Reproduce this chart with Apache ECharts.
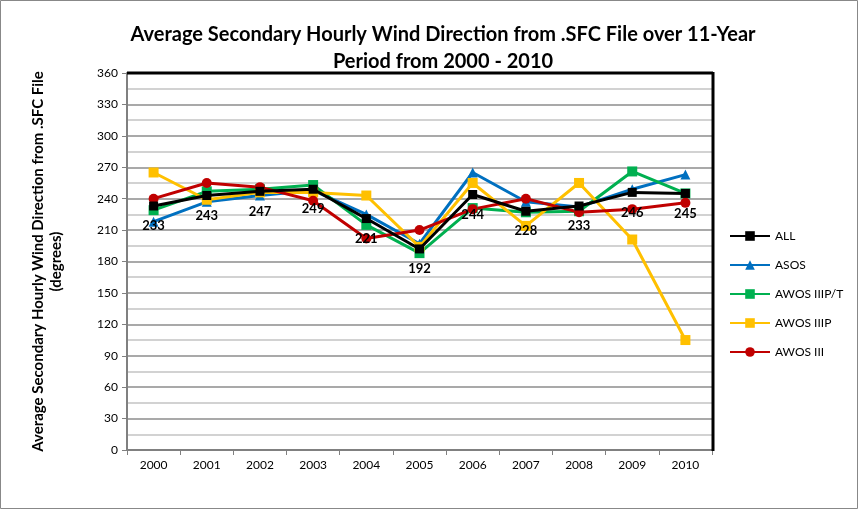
<!DOCTYPE html>
<html>
<head>
<meta charset="utf-8">
<script src="https://cdn.jsdelivr.net/npm/echarts@6/dist/echarts.min.js"></script>
<style>
  html, body { margin: 0; padding: 0; background: #fff; }
  #chart { width: 858px; height: 509px; }
</style>
</head>
<body>
<div id="chart"></div>
<script>
const years = ["2000", "2001", "2002", "2003", "2004", "2005", "2006", "2007", "2008", "2009", "2010"];
const allVals = [233, 243, 247, 249, 221, 192, 244, 228, 233, 246, 245];
const asosVals = [218, 237, 243, 248, 225, 197, 265, 237, 232, 249, 263];
const awosPTVals = [229, 247, 249, 253, 215, 188, 231, 227, 228, 266, 245];
const awosPVals = [265, 239, 246, 246, 243, 194, 255, 214, 255, 201, 105];
const awos3Vals = [240, 255, 251, 238, 202, 210, 230, 240, 227, 230, 236];
const yTicks = [0, 360, 30];

const font = "Lato, 'Open Sans', sans-serif";

const mk = (name, data, color, symbol, size) => ({
  name: name,
  type: "line",
  data: data,
  symbol: symbol,
  symbolSize: size,
  lineStyle: { color: color, width: 3 },
  itemStyle: { color: color },
  z: 2
});

const chart = echarts.init(document.getElementById("chart"));
chart.setOption({
  animation: false,
  backgroundColor: "#fff",
  title: {
    text: "Average Secondary Hourly Wind Direction from .SFC File over 11-Year\nPeriod from 2000 - 2010",
    left: 438,
    textAlign: "center",
    top: 16,
    textStyle: { fontFamily: font, fontWeight: "bold", fontSize: 20, color: "#000", lineHeight: 27 }
  },
  legend: {
    orient: "vertical",
    left: 724,
    top: 225,
    itemGap: 17,
    itemWidth: 40,
    itemHeight: 12,
    textStyle: { fontFamily: font, fontSize: 12, color: "#000" },
    data: ["ALL", "ASOS", "AWOS IIIP/T", "AWOS IIIP", "AWOS III"]
  },
  grid: { left: 127, right: 146, top: 73, bottom: 59 },
  xAxis: {
    type: "category",
    data: years,
    boundaryGap: true,
    axisLine: { lineStyle: { color: "#808080", width: 2 } },
    axisTick: { show: true, lineStyle: { color: "#808080" }, length: 5 },
    axisLabel: { fontFamily: font, fontSize: 12, color: "#000", margin: 9 }
  },
  yAxis: {
    type: "value",
    min: yTicks[0],
    max: yTicks[1],
    interval: yTicks[2],
    name: "Average Secondary Hourly Wind Direction from .SFC File\n(degrees)",
    nameLocation: "middle",
    nameGap: 62,
    nameTextStyle: { fontFamily: font, fontWeight: "bold", fontSize: 15, color: "#000", lineHeight: 18 },
    axisLine: { show: true, lineStyle: { color: "#808080", width: 2 } },
    axisTick: { show: true, lineStyle: { color: "#808080" }, length: 5 },
    axisLabel: { fontFamily: font, fontSize: 12, color: "#000", margin: 9 },
    splitLine: { show: true, lineStyle: { color: "#8c8c8c", width: 1.5 } },
    minorTick: { show: false, splitNumber: 2 },
    minorSplitLine: { show: true, lineStyle: { color: "#c4c4c4", width: 1.5 } }
  },
  graphic: [
    { type: "rect", shape: { x: 0.5, y: 0.5, width: 857, height: 508 }, style: { fill: null, stroke: "#888", lineWidth: 1 }, silent: true },
    { type: "line", shape: { x1: 127, y1: 73, x2: 713, y2: 73 }, style: { stroke: "#000", lineWidth: 3 }, z: 10 },
    { type: "line", shape: { x1: 713, y1: 72, x2: 713, y2: 451 }, style: { stroke: "#000", lineWidth: 3 }, z: 10 }
  ],
  series: [
    Object.assign(mk("ALL", allVals, "#000000", "rect", 9), {
      z: 3,
      label: {
        show: true,
        position: "bottom",
        distance: 9,
        fontFamily: font,
        fontWeight: "bold",
        fontSize: 13,
        color: "#000"
      }
    }),
    mk("ASOS", asosVals, "#0070c0", "triangle", 10),
    mk("AWOS IIIP/T", awosPTVals, "#00b050", "rect", 10),
    mk("AWOS IIIP", awosPVals, "#ffc000", "rect", 10),
    mk("AWOS III", awos3Vals, "#c00000", "circle", 10)
  ]
});
</script>
</body>
</html>
